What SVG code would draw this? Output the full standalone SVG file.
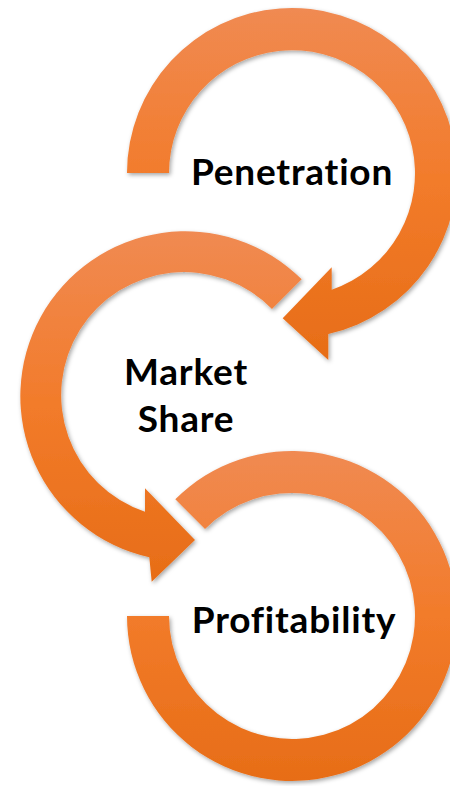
<svg xmlns="http://www.w3.org/2000/svg" width="450" height="786" viewBox="0 0 450 786">
  <defs>
    <linearGradient id="g1" x1="0" y1="0" x2="0" y2="1">
      <stop offset="0" stop-color="#F08A52"/>
      <stop offset="0.5" stop-color="#F27B2A"/>
      <stop offset="1" stop-color="#E76D17"/>
    </linearGradient>
    <filter id="sh" x="-10%" y="-10%" width="120%" height="120%">
      <feDropShadow dx="1.5" dy="2" stdDeviation="2" flood-color="#000" flood-opacity="0.35"/>
    </filter>
  </defs>
  <style>
    .arc { fill: url(#g1); filter: url(#sh); }
    .lbl { font-family: Lato, "Open Sans", "Liberation Sans", sans-serif; font-weight: 700; font-size: 37px; letter-spacing: 0.8px; font-variant-ligatures: none; fill: #000; text-anchor: middle; }
  </style>
  <rect width="450" height="786" fill="#fff"/>
  <g id="profitability">
    <path class="arc" d="M 127,616 A 165 165 0 1 0 175.3,499.3 L 205,529 A 123 123 0 1 1 169,616 Z"/>
    <text class="lbl" x="294" y="633">Profitability</text>
  </g>
  <g id="market-share">
    <path class="arc" d="M 301.7,279.3 A 165 165 0 1 0 149.3,557.3 L 151.7,581.7 L 195,540 L 145,488.3 L 145,511.7 A 123 123 0 1 1 272,309 Z"/>
    <text class="lbl" x="186" y="385">Market</text>
    <text class="lbl" x="186" y="432">Share</text>
  </g>
  <g id="penetration">
    <path class="arc" d="M 127,173 A 165 165 0 1 1 328.3,334 L 328.3,360 L 282.7,318.3 L 331.7,267.3 L 331.7,289.7 A 123 123 0 1 0 169,173 Z"/>
    <text class="lbl" x="292" y="185">Penetration</text>
  </g>
  <g id="connectors"/>
</svg>
